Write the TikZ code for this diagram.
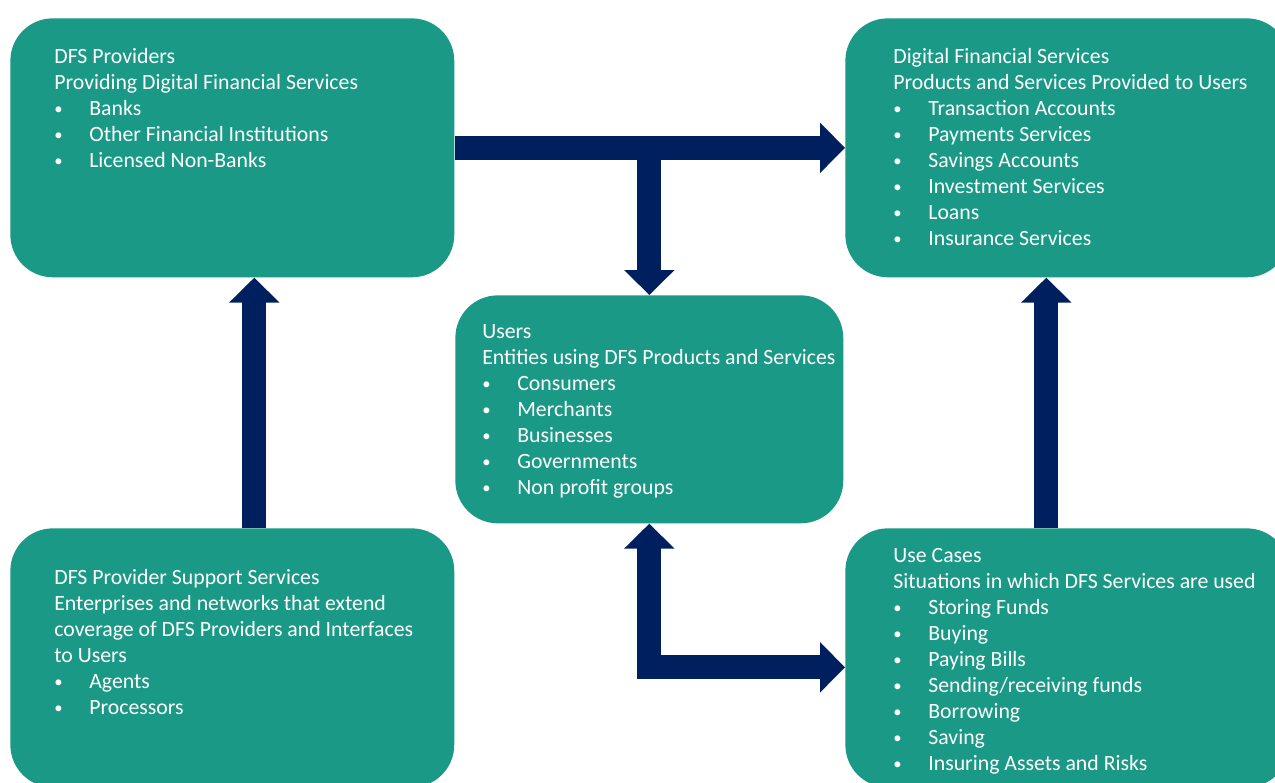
\documentclass[tikz,border=0pt]{standalone}
\usepackage{fontspec}
\setmainfont{Carlito}
\usetikzlibrary{arrows.meta,positioning}
\definecolor{dfsteal}{HTML}{1A9987}
\definecolor{dfsnavy}{HTML}{001F5F}
\newcommand{\itm}[1]{\makebox[0.7cm][l]{\raisebox{0.6pt}{\fontsize{9.5}{9.5}\selectfont\textbullet}}#1}

\begin{document}
\begin{tikzpicture}[x=0.02cm,y=-0.02cm]
    \tikzstyle{box} = [fill=dfsteal, rounded corners=0.85cm, anchor=north west, inner sep=0, minimum width=8.88cm, minimum height=5.18cm]
    \tikzstyle{boxtext} = [text=white, align=left, anchor=north west, inner sep=0, font=\fontsize{12.4}{14.8}\selectfont]
    \tikzstyle{bigarrow} = [draw=dfsnavy, line width=0.48cm, -{Triangle[length=0.5cm,width=0.98cm]}]
    \clip (0,0) rectangle (1275,782);
    % boxes
    \node[box] (prov) at (10,18) {};
    \node[box] (dfs) at (845,18) {};
    \node[box, minimum width=7.76cm, minimum height=4.56cm] (users) at (455,295) {};
    \node[box] (support) at (10,528) {};
    \node[box] (usecase) at (845,528) {};
    % box texts
    \node[boxtext] (provtxt) at (54,48) {DFS Providers\\Providing Digital Financial Services\\\itm{Banks}\\\itm{Other Financial Institutions}\\\itm{Licensed Non-Banks}};
    \node[boxtext] (dfstxt) at (893,48) {Digital Financial Services\\Products and Services Provided to Users\\\itm{Transaction Accounts}\\\itm{Payments Services}\\\itm{Savings Accounts}\\\itm{Investment Services}\\\itm{Loans}\\\itm{Insurance Services}};
    \node[boxtext] (userstxt) at (482,324) {Users\\Entities using DFS Products and Services\\\itm{Consumers}\\\itm{Merchants}\\\itm{Businesses}\\\itm{Governments}\\\itm{Non profit groups}};
    \node[boxtext] (supporttxt) at (54,569) {DFS Provider Support Services\\Enterprises and networks that extend\\coverage of DFS Providers and Interfaces\\to Users\\\itm{Agents}\\\itm{Processors}};
    \node[boxtext] (usecasetxt) at (893,548) {Use Cases\\Situations in which DFS Services are used\\\itm{Storing Funds}\\\itm{Buying}\\\itm{Paying Bills}\\\itm{Sending/receiving funds}\\\itm{Borrowing}\\\itm{Saving}\\\itm{Insuring Assets and Risks}};
    % arrows
    \draw[bigarrow] (prov.east) -- (dfs.west);
    \draw[bigarrow] (prov.east -| users.north) -- (users.north);
    \draw[bigarrow] ([xshift=0.44cm]support.north) -- ([xshift=0.44cm]prov.south);
    \draw[bigarrow] ([xshift=-0.42cm]usecase.north) -- ([xshift=-0.42cm]dfs.south);
    \draw[bigarrow, {Triangle[length=0.5cm,width=0.98cm]}-{Triangle[length=0.5cm,width=0.98cm]}, line join=miter] (users.south) |- ([yshift=-0.19cm]usecase.west);
\end{tikzpicture}
\end{document}
